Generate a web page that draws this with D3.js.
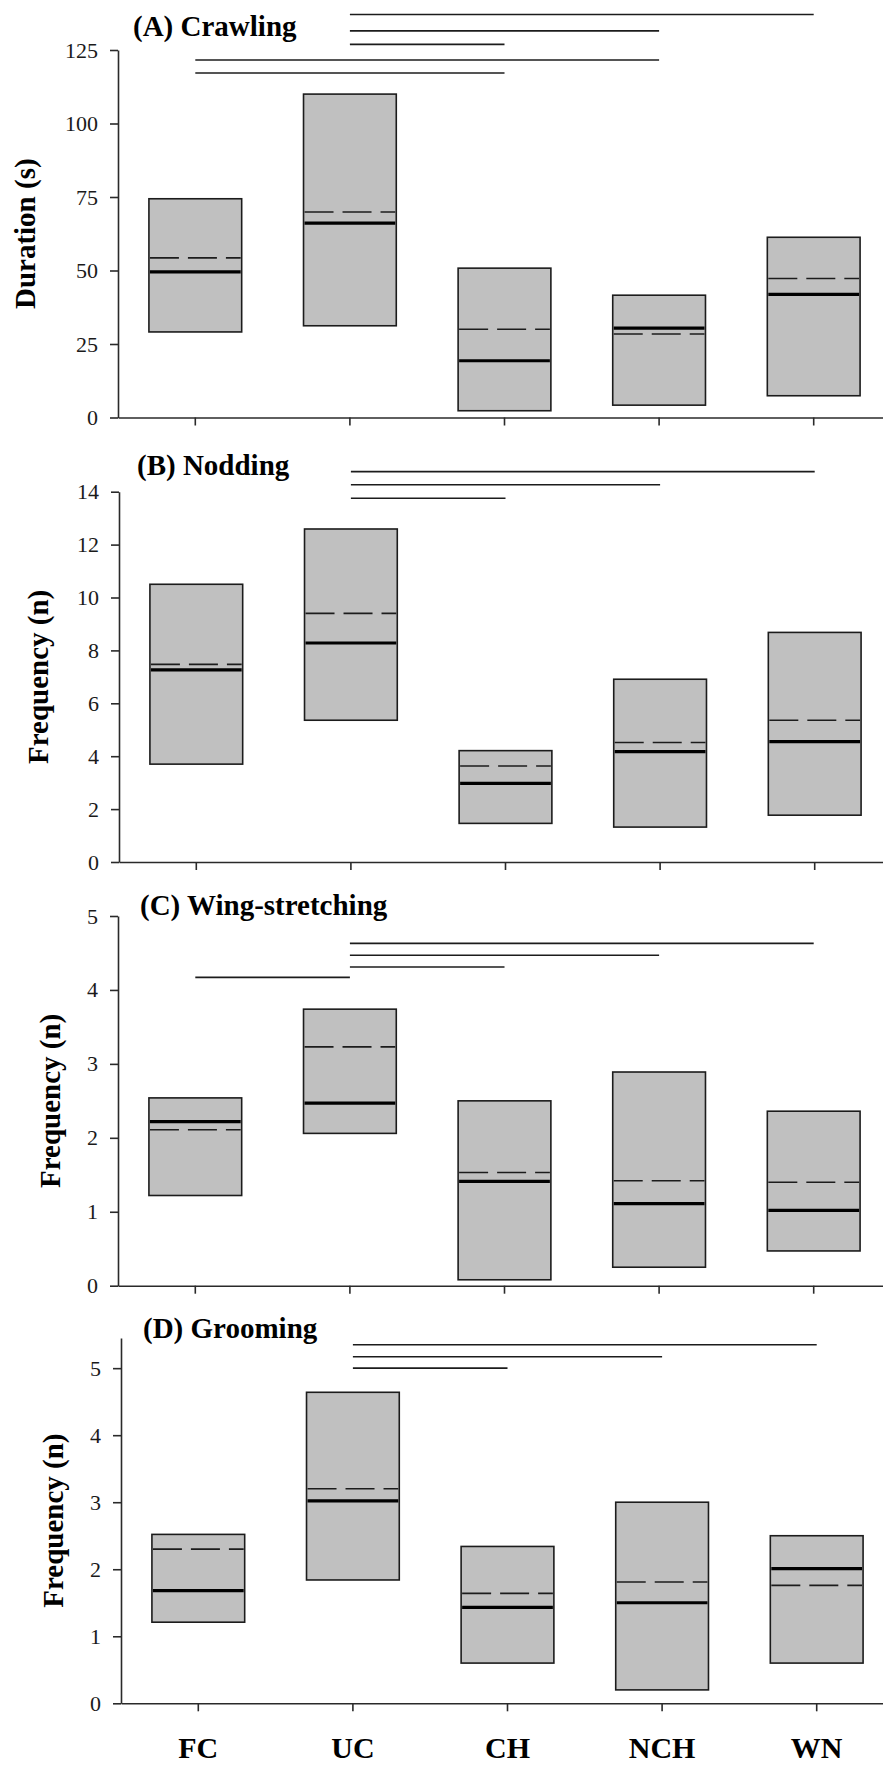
<!DOCTYPE html>
<html>
<head>
<meta charset="utf-8">
<script src="https://cdn.jsdelivr.net/npm/d3@7"></script>
<style>
  html, body { margin: 0; padding: 0; background: #fff; }
  svg { display: block; }
  text { font-family: "Liberation Serif", "Times New Roman", serif; }
</style>
</head>
<body>
<svg id="chart" width="883" height="1765"></svg>
<script>
// ---------- data ----------
const categories = ["FC", "UC", "CH", "NCH", "WN"];

// (A) Crawling - duration (s)
const crawlQ1     = [29.1, 31.2, 2.3, 4.2, 7.4];
const crawlQ3     = [74.4, 110.0, 50.8, 41.6, 61.3];
const crawlMedian = [49.5, 66.1, 19.3, 30.4, 41.9];
const crawlMean   = [54.3, 69.9, 30.0, 28.4, 47.3];
const crawlTicks  = [0, 25, 50, 75, 100, 125];
const crawlSig    = [["UC", "WN", 137.1], ["UC", "NCH", 131.5], ["UC", "CH", 126.9], ["FC", "NCH", 121.6], ["FC", "CH", 117.2]];

// (B) Nodding - frequency (n)
const nodQ1     = [3.7, 5.36, 1.46, 1.32, 1.77];
const nodQ3     = [10.5, 12.59, 4.21, 6.91, 8.68];
const nodMedian = [7.26, 8.28, 2.97, 4.17, 4.55];
const nodMean   = [7.47, 9.40, 3.63, 4.52, 5.36];
const nodTicks  = [0, 2, 4, 6, 8, 10, 12, 14];
const nodSig    = [["UC", "WN", 14.76], ["UC", "NCH", 14.26], ["UC", "CH", 13.75]];

// (C) Wing-stretching - frequency (n)
const wingQ1     = [1.22, 2.06, 0.08, 0.25, 0.47];
const wingQ3     = [2.54, 3.74, 2.50, 2.89, 2.36];
const wingMedian = [2.22, 2.47, 1.41, 1.11, 1.02];
const wingMean   = [2.11, 3.23, 1.53, 1.42, 1.40];
const wingTicks  = [0, 1, 2, 3, 4, 5];
const wingSig    = [["UC", "WN", 4.63], ["UC", "NCH", 4.47], ["UC", "CH", 4.31], ["FC", "UC", 4.17]];

// (D) Grooming - frequency (n)
const groomQ1     = [1.21, 1.84, 0.60, 0.20, 0.60];
const groomQ3     = [2.52, 4.64, 2.34, 3.00, 2.50];
const groomMedian = [1.68, 3.02, 1.43, 1.50, 2.01];
const groomMean   = [2.30, 3.20, 1.64, 1.81, 1.76];
const groomTicks  = [0, 1, 2, 3, 4, 5];
const groomSig    = [["UC", "WN", 5.35], ["UC", "NCH", 5.17], ["UC", "CH", 5.0]];

// ---------- layout ----------
const W = 883, H = 1765;
const panels = [
  { title: "(A) Crawling", ylab: "Duration (s)", q1: crawlQ1, q3: crawlQ3, med: crawlMedian, mean: crawlMean,
    ticks: crawlTicks, sig: crawlSig, top: 125, y0: 417.5, y1: 50, ax: 118, tx: 133, ty: 36, lx: 35 },
  { title: "(B) Nodding", ylab: "Frequency (n)", q1: nodQ1, q3: nodQ3, med: nodMedian, mean: nodMean,
    ticks: nodTicks, sig: nodSig, top: 14, y0: 862, y1: 491.7, ax: 119, tx: 137, ty: 475, lx: 48 },
  { title: "(C) Wing-stretching", ylab: "Frequency (n)", q1: wingQ1, q3: wingQ3, med: wingMedian, mean: wingMean,
    ticks: wingTicks, sig: wingSig, top: 5, y0: 1285.7, y1: 916, ax: 118, tx: 140, ty: 915, lx: 60 },
  { title: "(D) Grooming", ylab: "Frequency (n)", q1: groomQ1, q3: groomQ3, med: groomMedian, mean: groomMean,
    ticks: groomTicks, sig: groomSig, top: 5.45, y0: 1703.3, y1: 1338, ax: 121, tx: 143, ty: 1338, lx: 63 }
];

const svg = d3.select("#chart");
svg.append("rect").attr("width", W).attr("height", H).attr("fill", "#fff");

panels.forEach((p, pi) => {
  const g = svg.append("g");
  const x = d3.scaleBand().domain(categories).range([p.ax, p.ax + 773]).paddingInner(0.4).paddingOuter(0.2);
  const y = d3.scaleLinear().domain([0, p.top]).range([p.y0, p.y1]);
  const cx = c => x(c) + x.bandwidth() / 2;

  // y axis
  const ya = g.append("g").attr("transform", `translate(${p.ax},0)`)
    .call(d3.axisLeft(y).tickValues(p.ticks).tickFormat(d3.format("d"))
      .tickSize(8).tickSizeOuter(0).tickPadding(12));
  ya.select(".domain").attr("stroke", "#2a2a2a").attr("stroke-width", 1.6);
  ya.selectAll(".tick line").attr("stroke", "#2a2a2a").attr("stroke-width", 1.6);
  ya.selectAll(".tick text").attr("font-size", 22).attr("fill", "#1a1a1a")
    .style("font-family", '"Liberation Serif", "Times New Roman", serif');

  // x axis
  const xa = g.append("g").attr("transform", `translate(0,${p.y0})`)
    .call(d3.axisBottom(x).tickSize(8).tickSizeOuter(0).tickFormat(""));
  xa.select(".domain").attr("stroke", "#2a2a2a").attr("stroke-width", 1.6);
  xa.selectAll(".tick line").attr("stroke", "#2a2a2a").attr("stroke-width", 1.6);

  // boxes
  categories.forEach((c, i) => {
    g.append("rect")
      .attr("x", x(c)).attr("width", x.bandwidth())
      .attr("y", y(p.q3[i])).attr("height", y(p.q1[i]) - y(p.q3[i]))
      .attr("fill", "#c0c0c0").attr("stroke", "#1c1c1c").attr("stroke-width", 1.6);
    g.append("line")
      .attr("x1", x(c) + 1).attr("x2", x(c) + x.bandwidth() - 1)
      .attr("y1", y(p.mean[i])).attr("y2", y(p.mean[i]))
      .attr("stroke", "#1c1c1c").attr("stroke-width", 1.6).attr("stroke-dasharray", "29,9");
    g.append("line")
      .attr("x1", x(c) + 1).attr("x2", x(c) + x.bandwidth() - 1)
      .attr("y1", y(p.med[i])).attr("y2", y(p.med[i]))
      .attr("stroke", "#000").attr("stroke-width", 3.2);
  });

  // significance bars
  p.sig.forEach(s => {
    g.append("line")
      .attr("x1", cx(s[0])).attr("x2", cx(s[1]))
      .attr("y1", y(s[2])).attr("y2", y(s[2]))
      .attr("stroke", "#1c1c1c").attr("stroke-width", 1.6);
  });

  // title
  g.append("text").attr("x", p.tx).attr("y", p.ty)
    .attr("font-size", 29).attr("font-weight", "bold").attr("fill", "#000")
    .text(p.title);

  // y label
  const ymid = (p.y0 + p.y1) / 2;
  g.append("text")
    .attr("transform", `translate(${p.lx},${ymid}) rotate(-90)`)
    .attr("text-anchor", "middle")
    .attr("font-size", 29).attr("font-weight", "bold").attr("fill", "#000")
    .text(p.ylab);

  // category labels on the last panel
  if (pi === panels.length - 1) {
    categories.forEach(c => {
      g.append("text").attr("x", cx(c)).attr("y", 1758)
        .attr("text-anchor", "middle")
        .attr("font-size", 30).attr("font-weight", "bold").attr("fill", "#000")
        .text(c);
    });
  }
});
</script>
</body>
</html>
